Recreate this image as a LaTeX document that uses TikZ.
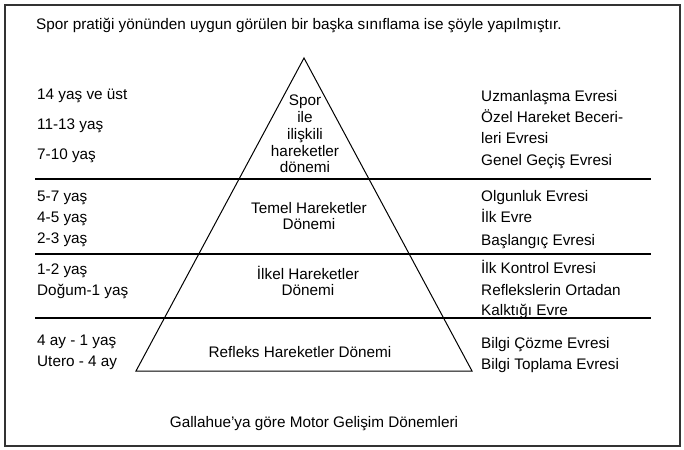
\documentclass[tikz,border=0pt]{standalone}
\usepackage{fontspec}
\setmainfont{Liberation Sans}
\begin{document}
\begin{tikzpicture}[x=1pt,y=-1pt,
  txt/.style={anchor=base west, inner sep=0pt, font=\fontsize{15.3}{16.8}\selectfont},
  ctxt/.style={anchor=center, inner sep=0pt, align=center, font=\fontsize{15.3}{16.8}\selectfont},
  rule/.style={line width=1.3pt, black},
  tri/.style={line width=1pt, black},
  frame/.style={line width=1.8pt, black!80}]
\useasboundingbox (0,0) rectangle (684,449);
\fill[white] (0,0) rectangle (684,449);
\draw[frame] (5,5) rectangle (680,446);
% title
\node[txt] (title) at (36,30) {Spor pratiği yönünden uygun görülen bir başka sınıflama ise şöyle yapılmıştır.};
% pyramid
\coordinate (apex) at (304,58);
\coordinate (bl) at (136,371);
\coordinate (br) at (472,371);
\draw[tri] (bl) -- (apex) -- (br) -- cycle;
% horizontal rules
\coordinate (r1a) at (35,179); \coordinate (r1b) at (651,179);
\coordinate (r2a) at (35,254); \coordinate (r2b) at (651,254);
\coordinate (r3a) at (35,318); \coordinate (r3b) at (651,318);
\draw[rule] (r1a) -- (r1b);
\draw[rule] (r2a) -- (r2b);
\draw[rule] (r3a) -- (r3b);
% left column
\node[txt] (a1) at (37,100) {14 yaş ve üst};
\node[txt] (a2) at (37,130) {11-13 yaş};
\node[txt] (a3) at (37,159) {7-10 yaş};
\node[txt] (b1) at (37,201) {5-7 yaş};
\node[txt] (b2) at (37,222) {4-5 yaş};
\node[txt] (b3) at (37,243) {2-3 yaş};
\node[txt] (c1) at (37,274) {1-2 yaş};
\node[txt] (c2) at (37,295) {Doğum-1 yaş};
\node[txt] (d1) at (37,345) {4 ay - 1 yaş};
\node[txt] (d2) at (37,366) {Utero - 4 ay};
% right column
\node[txt] (e1) at (481,102) {Uzmanlaşma Evresi};
\node[txt] (e2) at (481,123) {Özel Hareket Beceri-};
\node[txt] (e3) at (481,144) {leri Evresi};
\node[txt] (e4) at (481,165) {Genel Geçiş Evresi};
\node[txt] (f1) at (481,201) {Olgunluk Evresi};
\node[txt] (f2) at (481,222) {İlk Evre};
\node[txt] (f3) at (481,245) {Başlangıç Evresi};
\node[txt] (g1) at (481,273) {İlk Kontrol Evresi};
\node[txt] (g2) at (481,295) {Reflekslerin Ortadan};
\node[txt] (g3) at (481,315) {Kalktığı Evre};
\node[txt] (h1) at (481,348) {Bilgi Çözme Evresi};
\node[txt] (h2) at (481,369) {Bilgi Toplama Evresi};
% pyramid texts
\node[ctxt] (p1) at (305,134) {Spor\\ile\\ilişkili\\hareketler\\dönemi};
\node[ctxt] (p2) at (309,216) {Temel Hareketler\\Dönemi};
\node[ctxt] (p3) at (308,281) {İlkel Hareketler\\Dönemi};
\node[ctxt] (p4) at (300,352) {Refleks Hareketler Dönemi};
% caption
\node[txt, anchor=base] (cap) at (314,427) {Gallahue’ya göre Motor Gelişim Dönemleri};
\end{tikzpicture}
\end{document}
